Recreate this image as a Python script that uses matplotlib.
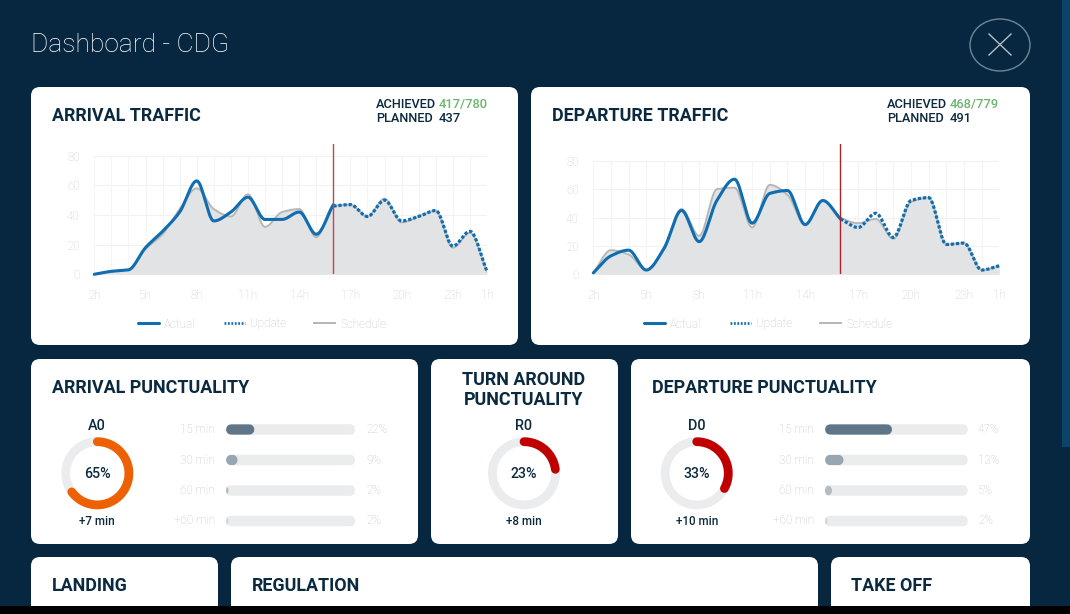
import numpy as np
import matplotlib
matplotlib.use("Agg")
import matplotlib.pyplot as plt
from matplotlib.lines import Line2D
from matplotlib.patches import FancyBboxPatch, Ellipse, Rectangle

plt.rcParams['font.family'] = ['Roboto', 'DejaVu Sans']

hours = ["2h", "3h", "4h", "5h", "6h", "7h", "8h", "9h", "10h", "11h", "12h", "13h",
         "14h", "15h", "16h", "17h", "18h", "19h", "20h", "21h", "22h", "23h", "0h", "1h"]
shown_hours = ["2h", "5h", "8h", "11h", "14h", "17h", "20h", "23h", "1h"]
y_ticks = [0, 20, 40, 60, 80]

arr_actual = [0, 2, 3, 18, 29, 42, 63, 36, 42, 52, 37, 37, 42, 27, 47]
arr_update = [46, 47, 39, 50, 36, 39, 43, 19, 29, 2]
arr_schedule = [0, 2, 3, 17, 27, 44, 58, 44, 39, 54, 32, 42, 44, 25, 46, 47, 39, 51, 35, 39, 43, 18, 28, 2]

dep_actual = [1, 13, 17, 3, 18, 45, 23, 52, 67, 36, 57, 59, 35, 52, 39]
dep_update = [39, 33, 43, 26, 52, 54, 21, 22, 3, 6]
dep_schedule = [1, 17, 14, 3, 19, 46, 27, 60, 61, 33, 63, 56, 35, 52, 40, 36, 39, 25, 51, 54, 21, 22, 3, 6]

bar_labels = ["15 min", "30 min", "60 min", "+60 min"]
arr_punct = [22, 9, 2, 2]
dep_punct = [47, 13, 5, 2]
bar_colors = ["#5f7689", "#98a6b2", "#b4bbc1", "#d5d8db"]

NAVY = "#06273f"
TEXT = "#0b2a40"
BLUE = "#0f6db0"
FAINT = "#c2c5c8"
W, H = 1070, 614

fig = plt.figure(figsize=(W / 100, H / 100), dpi=100, facecolor=NAVY)
bg = fig.add_axes([0, 0, 1, 1])
bg.set_xlim(0, W)
bg.set_ylim(H, 0)
bg.axis('off')


def px_axes(x0, y0, x1, y1, **kw):
    # axes from pixel box, y measured from the top
    return fig.add_axes([x0 / W, 1 - y1 / H, (x1 - x0) / W, (y1 - y0) / H], **kw)


def card(x0, y0, x1, y1):
    bg.add_patch(FancyBboxPatch((x0, y0), x1 - x0, y1 - y0, boxstyle="round,pad=0,rounding_size=9",
                                fc="white", ec="none"))


def smooth(x, y):
    # monotone cubic between the read values, for the rounded line look
    x = np.asarray(x, float)
    y = np.asarray(y, float)
    d = np.diff(y) / np.diff(x)
    m = np.zeros_like(y)
    m[0], m[-1] = d[0], d[-1]
    for i in range(1, len(y) - 1):
        if d[i - 1] * d[i] > 0:
            m[i] = 2 * d[i - 1] * d[i] / (d[i - 1] + d[i])
    xs, ys = [], []
    for i in range(len(x) - 1):
        t = np.linspace(0, 1, 20)
        h = x[i + 1] - x[i]
        ys.append((2*t**3 - 3*t**2 + 1) * y[i] + (t**3 - 2*t**2 + t) * h * m[i]
                  + (-2*t**3 + 3*t**2) * y[i + 1] + (t**3 - t**2) * h * m[i + 1])
        xs.append(x[i] + t * h)
    return np.concatenate(xs), np.concatenate(ys)


def traffic(box, title, tx, achieved, planned, sx, vx, actual, update, schedule, top, red, legend_x):
    ax = px_axes(*box, facecolor="none")
    pos = np.arange(len(hours))
    ax.set_xlim(0, len(hours) - 1)
    ax.set_ylim(0, top)
    for s in ax.spines.values():
        s.set_visible(False)
    ax.vlines(pos, 0, 80, color="#f5f5f6", lw=0.8, zorder=0)
    ax.hlines(y_ticks, 0, len(hours) - 1, color="#f2f2f3", lw=0.8, zorder=0)

    sx_c, sy_c = smooth(pos, schedule)
    ax.fill_between(sx_c, 0, sy_c, color="#e2e3e5", lw=0, zorder=1)
    sched, = ax.plot(sx_c, sy_c, color="#b7b7b7", lw=1.4, zorder=2, label="Schedule")
    ax_x, ax_y = smooth(pos[:len(actual)], actual)
    act, = ax.plot(ax_x, ax_y, color=BLUE, lw=2.2, zorder=3, clip_on=False, label="Actual",
                   solid_capstyle='round')
    up_x, up_y = smooth(pos[len(actual) - 1:], update)
    ax.plot(up_x, up_y, color=BLUE, lw=2.3, ls=(0, (1, 0.6)), zorder=3, clip_on=False)
    ax.axvline(pos[len(actual) - 1], color=red, lw=1, zorder=4)

    tick_pos = [hours.index(h) for h in shown_hours]
    ax.set_xticks(tick_pos, shown_hours)
    ax.set_yticks(y_ticks)
    ax.tick_params(axis='x', length=0, pad=10.5, labelsize=8.4, labelcolor="#cbcdd0")
    ax.tick_params(axis='y', length=0, pad=10.5, labelsize=8.4, labelcolor="#cbcdd0")
    for t in ax.get_xticklabels() + ax.get_yticklabels():
        t.set_fontweight('light')

    # the legend dots are finer than the ones on the curve
    upd = Line2D([], [], color=BLUE, lw=1.9, ls=(0, (0.7, 0.6)), label="Update")
    leg = ax.legend(handles=[act, upd, sched], ncols=3, frameon=False, loc='center',
                    bbox_to_anchor=(legend_x / W, 1 - 324 / H), bbox_transform=fig.transFigure,
                    fontsize=8.4, labelcolor=FAINT, handlelength=1.8, handletextpad=0.43,
                    columnspacing=2.45, borderpad=0)
    for t in leg.get_texts():
        t.set_fontweight('light')

    bg.text(tx, 116, title, fontsize=12.9, fontweight='bold', color=TEXT, va='center')
    bg.text(sx, 104.5, "ACHIEVED", fontsize=9.2, fontweight='medium', color=TEXT, va='center')
    bg.text(vx, 104.5, achieved, fontsize=9.3, fontweight='medium', color="#6cb56c", va='center')
    bg.text(sx, 119, "PLANNED", fontsize=9.2, fontweight='medium', color=TEXT, va='center')
    bg.text(vx, 119, planned, fontsize=9.3, fontweight='medium', color=TEXT, va='center')


def gauge(cx, name, pct, note, color):
    cy = 473.3
    ax = px_axes(cx - 42, cy - 42, cx + 42, cy + 42, projection='polar', facecolor="none")
    ax.set_theta_zero_location('N')
    ax.set_theta_direction(-1)
    ax.set_ylim(0, 42)
    ax.axis('off')
    ax.plot(np.linspace(0, 2 * np.pi, 200), np.full(200, 31.6), color="#ebecee", lw=6.3)
    ax.plot(np.linspace(0, 2 * np.pi * pct / 100, 200), np.full(200, 31.6), color=color, lw=6.3,
            solid_capstyle='round')
    bg.text(cx, 425.5, name, ha='center', va='center', fontsize=10.4, fontweight='medium', color=TEXT)
    bg.text(cx, 474, f"{pct}%", ha='center', va='center', fontsize=10.2, fontweight='medium', color=TEXT)
    bg.text(cx, 521.5, note, ha='center', va='center', fontsize=8.4, fontweight='medium', color=TEXT)


def bars(x0, x1, label_x, pct_x, values):
    rows = [429.5, 460, 490.5, 521]
    step = rows[1] - rows[0]
    ax = px_axes(x0, rows[0] - step / 2, x1, rows[-1] + step / 2, facecolor="none")
    ax.set_xlim(0, 100)
    ax.set_ylim(len(values) - 0.5, -0.5)
    ax.axis('off')
    r = 5.3 * 100 / (x1 - x0)
    for i, v in enumerate(values):
        y = rows[i]
        track = FancyBboxPatch((x0, y - 5.3), x1 - x0, 10.6, boxstyle="round,pad=0,rounding_size=5.3",
                               fc="#ebecee", ec="none")
        bg.add_patch(track)
        # short values end up as a sliver: the round cap is cut off by the track
        line, = ax.plot([min(r, v - r - 0.3), v - r], [i, i], color=bar_colors[i], lw=7.6,
                        solid_capstyle='round')
        line.set_snap(False)
        line.set_clip_path(track)
        bg.text(label_x, y, bar_labels[i], ha='right', va='center', fontsize=8.4,
                fontweight='light', color=FAINT)
        bg.text(pct_x, y, f"{v}%", ha='left', va='center', fontsize=8.4,
                fontweight='light', color=FAINT)


# page furniture
bg.add_patch(Rectangle((1062, 0), 8, 447, fc="#0c4468", ec="none"))
bg.text(31, 45.5, "Dashboard - CDG", fontsize=19, fontweight='light', color="white", va='center')
bg.add_patch(Ellipse((1000, 45), 60, 52, fc="none", ec="#6f8695", lw=1))
bg.plot([989, 1011], [34, 55], color="#b3c0c9", lw=1)
bg.plot([989, 1011], [55, 34], color="#b3c0c9", lw=1)

for c in [(31, 87, 518, 345), (531, 87, 1030, 345),
          (31, 359, 418, 544), (431, 359, 618, 544), (631, 359, 1030, 544),
          (31, 557, 218, 640), (231, 557, 818, 640), (831, 557, 1030, 640)]:
    card(*c)

traffic((94.3, 144, 487, 274.3), "ARRIVAL TRAFFIC", 52, "417/780", "437", 376, 438.5,
        arr_actual, arr_update, arr_schedule, 87.9, "#c6474a", 262)
traffic((593.3, 144, 999.3, 274.3), "DEPARTURE TRAFFIC", 552, "468/779", "491", 887, 950,
        dep_actual, dep_update, dep_schedule, 91.8, "#a92428", 768)

bg.text(52, 388, "ARRIVAL PUNCTUALITY", fontsize=12.9, fontweight='bold', color=TEXT, va='center')
bg.text(524, 390, "TURN AROUND\nPUNCTUALITY", fontsize=12.9, fontweight='bold', color=TEXT,
        va='center', ha='center', linespacing=1.12)
bg.text(652, 388, "DEPARTURE PUNCTUALITY", fontsize=12.9, fontweight='bold', color=TEXT, va='center')

gauge(97.3, "A0", 65, "+7 min", "#ee6103")
gauge(524, "R0", 23, "+8 min", "#c00000")
gauge(696.7, "D0", 33, "+10 min", "#c00000")
bars(226, 355, 215, 366.7, arr_punct)
bars(825, 967.7, 814, 978, dep_punct)

bg.text(52, 586, "LANDING", fontsize=12.9, fontweight='bold', color=TEXT, va='center')
bg.text(252, 586, "REGULATION", fontsize=12.9, fontweight='bold', color=TEXT, va='center')
bg.text(851, 586, "TAKE OFF", fontsize=12.9, fontweight='bold', color=TEXT, va='center')

bg.add_patch(Rectangle((0, 606), W, 8, fc="black", ec="none", zorder=10))

fig.savefig("out.png", dpi=100, facecolor=fig.get_facecolor())
